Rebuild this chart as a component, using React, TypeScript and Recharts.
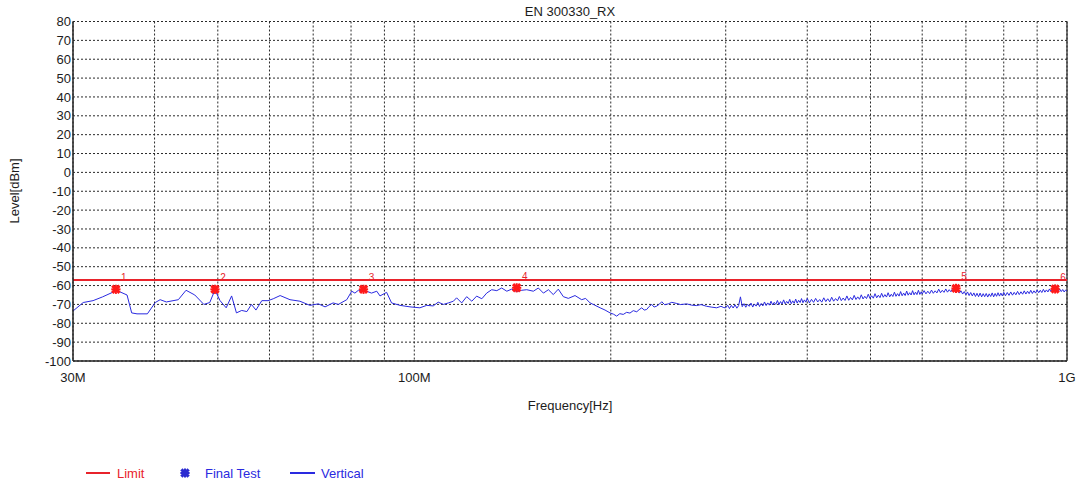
import React from 'react';
import {
  ComposedChart,
  Line,
  Scatter,
  XAxis,
  YAxis,
  CartesianGrid,
  Legend,
  ReferenceLine,
} from 'recharts';

// ---------- data ----------
const TITLE = 'EN 300330_RX';

// Vertical polarisation sweep: frequency (MHz) and level (dBm)
const VERT_FREQ_MHZ = [
  30.0, 31.1, 32.2, 33.3, 35.0, 36.3, 36.9, 37.6, 39.0, 40.1, 40.8, 41.7, 43.5, 44.7, 46.1, 47.6, 48.6, 49.5,
  50.4, 51.5, 52.5, 53.4, 54.4, 55.4, 56.3, 57.2, 58.4, 59.7, 60.8, 62.3, 64.5, 66.8, 69.2, 71.3, 73.0, 75.1,
  76.5, 78.8, 80.2, 81.1, 82.1, 84.5, 86.0, 87.6, 88.6, 90.7, 92.3, 95.1, 98.5, 102.0, 104.5, 106.9, 108.8,
  110.8, 112.8, 114.8, 116.1, 118.2, 120.3, 122.5, 124.6, 126.9, 129.1, 131.4, 133.8, 136.1, 138.6, 141.0,
  143.5, 146.1, 148.7, 152.2, 154.9, 157.7, 160.5, 163.3, 166.2, 169.2, 172.2, 176.3, 180.5, 183.0, 185.9,
  189.0, 192.6, 196.0, 199.5, 202.0, 204.2, 206.5, 209.0, 211.5, 214.0, 216.5, 219.2, 221.0, 223.1, 225.0,
  227.0, 229.0, 231.1, 233.0, 235.2, 237.5, 239.4, 242.0, 245.0, 248.0, 252.4, 256.0, 261.4, 266.0, 270.8,
  275.0, 280.5, 285.0, 290.6, 295.0, 298.0,
  // 300 - 400 MHz
  300, 302, 304, 306, 308, 310, 312, 314, 316, 318,
  320, 322, 324, 326, 328, 330, 332, 334, 336, 338,
  340, 342, 344, 346, 348, 350, 352, 354, 356, 358,
  360, 362, 364, 366, 368, 370, 372, 374, 376, 378,
  380, 382, 384, 386, 388, 390, 392, 394, 396, 398, 400,
  // 400 - 600 MHz
  403, 406, 409, 412, 415, 418, 421, 424, 427, 430,
  433, 436, 439, 442, 445, 448, 451, 454, 457, 460,
  463, 466, 469, 472, 475, 478, 481, 484, 487, 490,
  493, 496, 499, 502, 505, 508, 511, 514, 517, 520,
  523, 526, 529, 532, 535, 538, 541, 544, 547, 550,
  553, 556, 559, 562, 565, 568, 571, 574, 577, 580,
  583, 586, 589, 592, 595, 598, 600,
  // 600 - 800 MHz
  604, 608, 612, 616, 620, 624, 628, 632, 636, 640,
  644, 648, 652, 656, 660, 664, 668, 672, 676, 680,
  684, 688, 692, 696, 700, 704, 708, 712, 716, 720,
  724, 728, 732, 736, 740, 744, 748, 752, 756, 760,
  764, 768, 772, 776, 780, 784, 788, 792, 796, 800,
  // 800 - 1000 MHz
  805, 810, 815, 820, 825, 830, 835, 840, 845, 850,
  855, 860, 865, 870, 875, 880, 885, 890, 895, 900,
  905, 910, 915, 920, 925, 930, 935, 940, 945, 950,
  955, 960, 965, 970, 975, 980, 985, 990, 995, 1000,
];
const VERT_LEVEL_DBM = [
  -73.5, -69.0, -68.0, -66.0, -62.6, -65.0, -74.5, -75.0, -75.0, -69.0, -67.5, -68.7, -67.5, -62.5, -65.0, -70.0, -69.0, -62.3,
  -68.0, -71.8, -65.5, -74.5, -73.2, -73.8, -70.0, -73.0, -68.0, -68.0, -67.0, -65.3, -67.5, -68.3, -70.5, -69.7, -71.3, -69.2,
  -70.0, -67.5, -63.0, -64.0, -62.5, -63.0, -64.0, -63.0, -65.5, -63.6, -69.2, -70.5, -71.3, -71.8, -70.5, -70.8, -68.8,
  -70.0, -69.2, -68.3, -66.5, -69.2, -65.9, -68.3, -65.6, -67.0, -64.0, -62.2, -62.7, -61.3, -63.0, -61.9,
  -63.2, -62.5, -62.2, -63.0, -61.3, -64.0, -62.2, -64.8, -61.9, -65.9, -66.8, -65.3, -67.5, -66.8, -69.2,
  -70.4, -71.8, -73.0, -74.5, -75.2, -76.2, -74.9, -75.3, -74.2, -74.6, -73.3, -73.9, -72.8, -71.8, -73.0,
  -72.7, -71.1, -70.0, -71.4, -70.9, -69.8, -68.6, -70.2, -69.7, -68.9, -69.5, -70.1, -69.7, -70.4, -70.6,
  -70.1, -71.0, -71.4, -71.8, -71.0, -71.7,
  // 300 - 400 MHz
  -71.8, -70.4, -72.2, -70.5, -71.9, -70.2, -72.0, -70.6, -66.0, -71.2,
  -69.6, -71.5, -69.9, -71.0, -69.3, -71.4, -69.8, -70.9, -68.9, -71.1,
  -69.5, -70.8, -68.7, -70.6, -69.2, -70.4, -68.3, -70.3, -68.9, -70.0,
  -67.9, -70.1, -68.5, -69.8, -67.6, -69.7, -68.4, -69.5, -67.3, -69.6,
  -68.1, -69.4, -67.2, -69.3, -67.8, -69.0, -66.9, -69.1, -67.6, -68.8, -66.8,
  // 400 - 600 MHz
  -69.2, -67.3, -68.9, -66.8, -68.7, -67.4, -68.8, -66.5, -68.5, -67.0,
  -68.6, -66.2, -68.3, -66.9, -68.1, -65.8, -68.0, -66.6, -67.9, -65.5,
  -67.8, -66.3, -67.6, -65.2, -67.4, -66.0, -67.3, -64.9, -67.1, -65.7,
  -66.9, -64.6, -66.8, -65.4, -66.7, -64.3, -66.5, -65.1, -66.4, -64.1,
  -66.2, -64.8, -66.1, -63.8, -66.0, -64.6, -65.8, -63.5, -65.7, -64.3,
  -65.6, -63.2, -65.4, -64.0, -65.3, -62.9, -65.1, -63.8, -65.0, -62.7,
  -64.9, -63.5, -64.8, -62.5, -64.7, -63.3, -64.5,
  // 600 - 800 MHz
  -62.7, -64.4, -63.0, -64.3, -62.4, -64.1, -62.8, -63.9, -61.9, -63.8,
  -62.5, -63.6, -61.8, -63.5, -62.2, -63.3, -61.6, -62.8, -61.4, -62.6,
  -64.0, -62.8, -64.5, -63.2, -64.9, -63.4, -65.3, -63.7, -65.5, -63.9,
  -65.8, -64.1, -65.9, -64.0, -66.0, -64.3, -65.9, -64.2, -66.1, -64.4,
  -65.8, -63.9, -66.0, -64.2, -65.7, -63.8, -65.6, -64.0, -65.5, -63.6,
  // 800 - 1000 MHz
  -65.4, -63.7, -65.2, -63.4, -65.1, -63.6, -64.9, -63.1, -64.8, -63.3,
  -64.6, -62.8, -64.5, -63.0, -64.3, -62.5, -64.2, -62.8, -64.0, -62.3,
  -63.8, -62.5, -63.7, -62.0, -63.5, -62.3, -63.4, -61.8, -63.2, -62.0,
  -61.3, -62.6, -61.5, -63.0, -61.9, -63.2, -62.1, -63.4, -62.4, -63.0,
];

// Limit line
const LIMIT_FREQ_MHZ = [30, 1000];
const LIMIT_DBM = [-57, -57];

// Final test markers
const FINAL_FREQ_MHZ = [34.9, 49.5, 83.6, 143.5, 676, 959];
const FINAL_LEVEL_DBM = [-62.0, -62.0, -62.0, -61.2, -61.5, -61.8];
const FINAL_LABELS = ['1', '2', '3', '4', '5', '6'];

// Axes
const X_TICKS = [30, 40, 50, 60, 70, 80, 90, 100, 200, 300, 400, 500, 600, 700, 800, 900, 1000];
const X_TICK_LABELS: Record<number, string> = { 30: '30M', 100: '100M', 1000: '1G' };
const Y_TICKS = [80, 70, 60, 50, 40, 30, 20, 10, 0, -10, -20, -30, -40, -50, -60, -70, -80, -90, -100];

// ---------- derived tables ----------
const vertData = VERT_FREQ_MHZ.map((f, i) => ({ f, v: VERT_LEVEL_DBM[i] }));
const limitData = LIMIT_FREQ_MHZ.map((f, i) => ({ f, v: LIMIT_DBM[i] }));
const finalData = FINAL_FREQ_MHZ.map((f, i) => ({ f, v: FINAL_LEVEL_DBM[i], n: FINAL_LABELS[i] }));

const FONT = '"Liberation Sans", Arial, Helvetica, sans-serif';
const RED = '#e8232b';
const MARK_RED = '#ff1a1a';
const BLUE = '#2a2ae0';
const TEXT = '#1c1c1c';

const XMark = ({ cx, cy, color }: { cx: number; cy: number; color: string }) => (
  <g>
    <line x1={cx - 3.6} y1={cy - 3.6} x2={cx + 3.6} y2={cy + 3.6} stroke={color} strokeWidth={3.2} />
    <line x1={cx - 3.6} y1={cy + 3.6} x2={cx + 3.6} y2={cy - 3.6} stroke={color} strokeWidth={3.2} />
    <line x1={cx - 4.6} y1={cy} x2={cx + 4.6} y2={cy} stroke={color} strokeWidth={2} />
    <line x1={cx} y1={cy - 4.6} x2={cx} y2={cy + 4.6} stroke={color} strokeWidth={2} />
  </g>
);

const FinalShape = (props: any) => {
  const { cx, cy, payload } = props;
  if (cx == null || cy == null) return <g />;
  return (
    <g>
      <XMark cx={cx} cy={cy} color={MARK_RED} />
      <text x={cx + 8} y={cy - 8} fill={RED} fontSize={10} fontFamily={FONT} textAnchor="middle">
        {payload.n}
      </text>
    </g>
  );
};

const LegendContent = () => (
  <svg width={320} height={20} style={{ display: 'block', overflow: 'visible' }}>
    <line x1={6} y1={10} x2={30} y2={10} stroke={RED} strokeWidth={2} />
    <text x={37} y={14.5} fill={RED} fontSize={13} fontFamily={FONT}>
      Limit
    </text>
    <XMark cx={105} cy={10} color="#2b2bd0" />
    <text x={125} y={14.5} fill={BLUE} fontSize={13} fontFamily={FONT}>
      Final Test
    </text>
    <line x1={210} y1={10} x2={235} y2={10} stroke={BLUE} strokeWidth={2} />
    <text x={241} y={14.5} fill={BLUE} fontSize={13} fontFamily={FONT}>
      Vertical
    </text>
  </svg>
);

export default function App() {
  return (
    <div style={{ position: 'absolute', left: 0, top: 0, width: 1081, height: 485, background: '#fff', fontFamily: FONT }}>
      <div
        style={{
          position: 'absolute',
          left: 420,
          top: 4,
          width: 300,
          textAlign: 'center',
          fontSize: 13,
          lineHeight: '15px',
          color: TEXT,
          fontFamily: FONT,
          zIndex: 2,
        }}
      >
        {TITLE}
      </div>
      <ComposedChart
        width={1081}
        height={485}
        margin={{ top: 21.5, right: 14, bottom: 94, left: 13 }}
      >
        <CartesianGrid stroke="#2a2a2a" strokeDasharray="2 2" strokeWidth={1} />
        <XAxis
          dataKey="f"
          type="number"
          scale="log"
          domain={[30, 1000]}
          ticks={X_TICKS}
          interval={0}
          allowDataOverflow
          height={30}
          tickLine={false}
          tickSize={0}
          tickMargin={12}
          axisLine={{ stroke: '#222', strokeWidth: 1.5 }}
          tick={{ fill: TEXT, fontSize: 13, fontFamily: FONT }}
          tickFormatter={(v: number) => X_TICK_LABELS[v] ?? ''}
          label={() => (
            <text x={570} y={410} textAnchor="middle" fill={TEXT} fontSize={13} fontFamily={FONT}>
              Frequency[Hz]
            </text>
          )}
        />
        <YAxis
          dataKey="v"
          type="number"
          domain={[-100, 80]}
          ticks={Y_TICKS}
          interval={0}
          allowDataOverflow
          width={60}
          tickLine={false}
          tickSize={0}
          tickMargin={2}
          axisLine={{ stroke: '#222', strokeWidth: 1.5 }}
          tick={{ fill: TEXT, fontSize: 13, fontFamily: FONT }}
          label={() => (
            <text
              x={19}
              y={191}
              textAnchor="middle"
              fill={TEXT}
              fontSize={13}
              fontFamily={FONT}
              transform="rotate(-90 19 191)"
            >
              Level[dBm]
            </text>
          )}
        />
        <ReferenceLine x={1000} stroke="#222" strokeWidth={1.2} ifOverflow="visible" />
        <Line
          data={vertData}
          dataKey="v"
          name="Vertical"
          stroke={BLUE}
          strokeWidth={1}
          dot={false}
          activeDot={false}
          isAnimationActive={false}
          type="linear"
        />
        <Line
          data={limitData}
          dataKey="v"
          name="Limit"
          stroke={RED}
          strokeWidth={2}
          dot={false}
          activeDot={false}
          isAnimationActive={false}
          type="linear"
        />
        <Scatter
          data={finalData}
          dataKey="v"
          name="Final Test"
          fill={MARK_RED}
          shape={FinalShape}
          isAnimationActive={false}
        />
        <Legend
          layout="horizontal"
          verticalAlign="middle"
          align="center"
          content={LegendContent}
          wrapperStyle={{ left: 80, top: 463, width: 320, height: 20 }}
        />
      </ComposedChart>
    </div>
  );
}
